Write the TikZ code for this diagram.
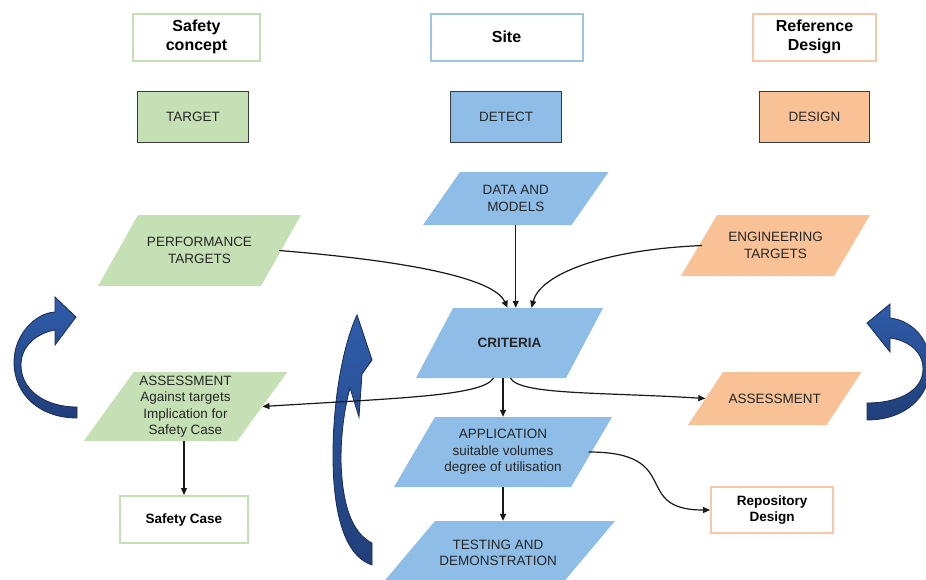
\documentclass[tikz,border=0pt]{standalone}
\usepackage{fontspec}
\setmainfont{Liberation Sans}
\usetikzlibrary{arrows.meta}

\definecolor{greenfill}{HTML}{C5E0B4}
\definecolor{bluefill}{HTML}{8EBEE8}
\definecolor{orangefill}{HTML}{F8C196}
\definecolor{greenline}{HTML}{C5E0B4}
\definecolor{blueline}{HTML}{9DC3E6}
\definecolor{orangeline}{HTML}{F8C7A6}
\definecolor{inkgray}{HTML}{262626}
\definecolor{boxedge}{HTML}{3A3A3A}
\definecolor{navytop}{HTML}{2F5DAA}
\definecolor{navybot}{HTML}{213F7A}
\definecolor{navyedge}{HTML}{1A2C55}

\tikzset{
  bodyfont/.style={font=\fontsize{13.5}{16.5}\selectfont},
  paratext/.style={bodyfont, text=inkgray, align=center, inner sep=0pt},
  headbox/.style={draw=#1, line width=2pt, fill=white, text=black, align=center,
    inner sep=0pt, minimum height=47pt, font=\fontsize{16}{19}\selectfont\bfseries},
  rolebox/.style={fill=#1, draw=boxedge, line width=1.4pt, text=inkgray, bodyfont,
    inner sep=0pt, minimum width=111pt, minimum height=51pt},
  outbox/.style={draw=#1, line width=2pt, fill=white, text=black, align=center,
    inner sep=0pt, minimum height=47pt, font=\fontsize{13.5}{16.5}\selectfont\bfseries},
  conn/.style={line width=1.2pt, draw=black!90, -{Triangle[length=7pt,width=6pt]}},
  bigarrow/.style={top color=navytop, bottom color=navybot, draw=navyedge, line width=0.8pt}
}

% parallelogram: #1 name, #2 x, #3 y, #4 width at mid-height, #5 height,
% #6 half horizontal offset of the slant, #7 fill colour, #8 text
\newcommand{\paranode}[8]{%
  \fill[#7] ({#2-#4/2+#6},{#3-#5/2}) -- ({#2+#4/2+#6},{#3-#5/2})
    -- ({#2+#4/2-#6},{#3+#5/2}) -- ({#2-#4/2-#6},{#3+#5/2}) -- cycle;
  \node[paratext, minimum width=#4, minimum height=#5] (#1) at (#2,#3) {#8};
}

\begin{document}
\begin{tikzpicture}[x=1pt, y=-1pt]
\useasboundingbox (0,0) rectangle (926,579);
\clip (0,0) rectangle (926,579);
\fill[white] (0,0) rectangle (926,579);

% column headings
\node[headbox=greenline, minimum width=127pt] (safety) at (196.5,37) {Safety\\concept};
\node[headbox=blueline, minimum width=152pt] (site) at (506.5,37) {Site};
\node[headbox=orangeline, minimum width=123pt] (refdes) at (814.5,37) {Reference\\Design};

% roles
\node[rolebox=greenfill] (target) at (193,117) {TARGET};
\node[rolebox=bluefill] (detect) at (506,117) {DETECT};
\node[rolebox=orangefill, minimum width=110pt] (design) at (814.5,117) {DESIGN};

% big curved arrows
\path[bigarrow] (77,418) .. controls (40,418) and (14,395) .. (14,362)
  .. controls (14,335) and (35,313) .. (55,312) -- (55,297) -- (76,317)
  -- (55,345) -- (55,330) .. controls (38,333) and (21,345) .. (21,365)
  .. controls (21,390) and (45,407) .. (77,407) -- cycle;
\path[bigarrow] (867,420) .. controls (904,420) and (930,398) .. (930,366)
  .. controls (930,337) and (910,320) .. (890,318) -- (890,304) -- (867,323)
  -- (890,352) -- (890,338) .. controls (906,340) and (923,350) .. (923,369)
  .. controls (923,391) and (898,403) .. (867,403) -- cycle;
\path[bigarrow] (372,565) .. controls (345,556) and (333,515) .. (333,455)
  .. controls (333,400) and (343,345) .. (357,315) -- (372,360) -- (362,374)
  -- (359,417) -- (350,388) .. controls (344,410) and (341,435) .. (341,460)
  .. controls (342,505) and (352,533) .. (372,543) -- cycle;

% process steps
\paranode{data}{515.75}{198.5}{148.5}{53}{18.5}{bluefill}{DATA AND\\MODELS}
\paranode{perf}{199.5}{250.5}{163}{71}{20}{greenfill}{PERFORMANCE\\TARGETS}
\paranode{eng}{775.5}{245.5}{153}{61}{18}{orangefill}{ENGINEERING\\TARGETS}
\paranode{crit}{509.5}{343}{150}{70}{18.5}{bluefill}{\bfseries CRITERIA}
\paranode{lass}{185.5}{406.5}{153.5}{69}{25}{greenfill}{ASSESSMENT\\Against targets\\Implication for\\Safety Case}
\paranode{rass}{774.75}{398.5}{138.5}{53}{17.5}{orangefill}{ASSESSMENT}
\paranode{app}{503}{452}{177}{70}{20.5}{bluefill}{APPLICATION\\suitable volumes\\degree of utilisation}
\paranode{test}{498}{553}{180}{64}{27}{bluefill}{TESTING AND\\DEMONSTRATION}

% outcomes
\node[outbox=greenline, minimum width=128pt] (case) at (184,519.5) {Safety Case};
\node[outbox=orangeline, minimum width=122pt, minimum height=46pt] (repo) at (772,510) {Repository\\Design};

% connectors
\draw[conn] (data.south) -- (data.south |- crit.north);
\draw[conn] ([xshift=-2pt]perf.east) .. controls (420,262) and (495,280) .. ([xshift=-2pt]crit.north);
\draw[conn] ([xshift=3pt]eng.west) .. controls (600,250) and (540,275) .. ([xshift=22pt]crit.north);
\draw[conn] ([xshift=-16pt]crit.south) .. controls (482,396) and (400,398) .. (lass.east);
\draw[conn] (app.north |- crit.south) -- (app.north);
\draw[conn] ([xshift=1pt]crit.south) .. controls (520,395) and (600,392) .. (rass.west);
\draw[conn] (app.south) -- (app.south |- test.north);
\draw[conn] ([xshift=-3pt]app.east) .. controls (685,452) and (630,510) .. (repo.west);
\draw[conn] (case.north |- lass.south) -- (case.north);
\end{tikzpicture}
\end{document}
